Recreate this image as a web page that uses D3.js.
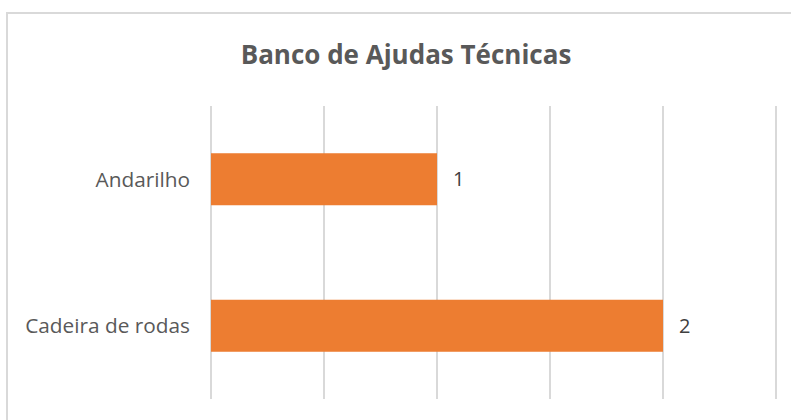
<!DOCTYPE html>
<html>
<head>
<meta charset="utf-8">
<script src="https://cdn.jsdelivr.net/npm/d3@7"></script>
<style>
  html, body { margin: 0; padding: 0; background: #fff; }
  svg { display: block; }
  text { font-family: "Open Sans", "Noto Sans", sans-serif; }
</style>
</head>
<body>
<svg id="chart" width="791" height="420"></svg>
<script>
// Chart data
const title = "Banco de Ajudas Técnicas";
const categories = ["Andarilho", "Cadeira de rodas"];
const values = [1, 2];
const xTicks = [0, 0.5, 1, 1.5, 2, 2.5];

const W = 791, H = 420;
const svg = d3.select("#chart");

// Chart frame (extends past the right/bottom edge of the view)
svg.append("rect")
  .attr("x", 7).attr("y", 13)
  .attr("width", 800).attr("height", 420)
  .attr("fill", "#fff")
  .attr("stroke", "#d9d9d9").attr("stroke-width", 2);

const plot = { left: 211, right: 776, top: 106, bottom: 399 };

const x = d3.scaleLinear().domain([0, 2.5]).range([plot.left, plot.right]);
const y = d3.scaleBand().domain(categories).range([plot.top, plot.bottom]).padding(0);

// Vertical gridlines
svg.append("g").selectAll("line").data(xTicks).join("line")
  .attr("x1", d => x(d)).attr("x2", d => x(d))
  .attr("y1", plot.top).attr("y2", plot.bottom)
  .attr("stroke", "#d9d9d9").attr("stroke-width", 2);

// Bars
const barH = y.bandwidth() * 0.355;
svg.append("g").selectAll("rect").data(categories).join("rect")
  .attr("x", x(0))
  .attr("y", d => y(d) + (y.bandwidth() - barH) / 2)
  .attr("width", (d, i) => x(values[i]) - x(0))
  .attr("height", barH)
  .attr("fill", "#ED7D31");

// Value labels
svg.append("g").selectAll("text").data(categories).join("text")
  .attr("x", (d, i) => x(values[i]) + 16)
  .attr("y", d => y(d) + y.bandwidth() / 2)
  .attr("dy", "0.35em")
  .attr("fill", "#404040")
  .attr("font-size", 20)
  .text((d, i) => values[i]);

// Category axis labels
svg.append("g").selectAll("text").data(categories).join("text")
  .attr("x", plot.left - 21)
  .attr("y", d => y(d) + y.bandwidth() / 2)
  .attr("dy", "0.35em")
  .attr("text-anchor", "end")
  .attr("fill", "#595959")
  .attr("font-size", 20.8)
  .text(d => d);

// Title
svg.append("text")
  .attr("x", 406).attr("y", 64)
  .attr("text-anchor", "middle")
  .attr("fill", "#595959")
  .attr("font-size", 26)
  .attr("font-weight", "bold")
  .text(title);
</script>
</body>
</html>
